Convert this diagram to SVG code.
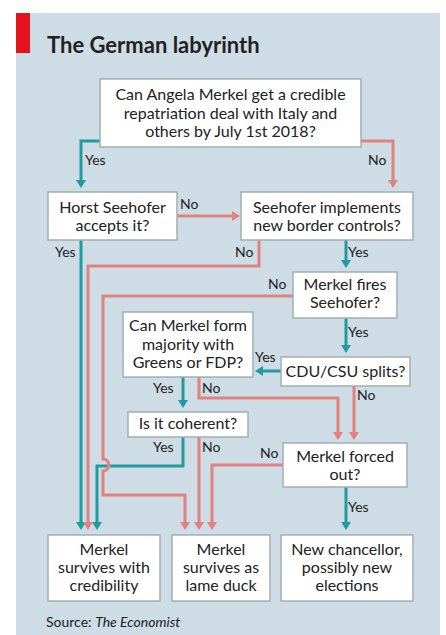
<svg xmlns="http://www.w3.org/2000/svg" width="446" height="635" viewBox="0 0 446 635">
<style>
text{font-family:Lato,"Open Sans","Liberation Sans",sans-serif;fill:#222}
.n{font-size:16px;text-anchor:middle}
.l{font-size:14px}
.box{fill:#fff;stroke:#a3aeb4;stroke-width:1.5}
.t{fill:none;stroke:#1e9ca0;stroke-width:3}
.r{fill:none;stroke:#e3817f;stroke-width:3}
.ta{marker-end:url(#at)}
.ra{marker-end:url(#ar)}
</style>
<defs>
<marker id="at" viewBox="0 0 8 10" markerWidth="8" markerHeight="10" refX="3" refY="5" orient="auto" markerUnits="userSpaceOnUse"><path d="M0,0L8,5L0,10z" fill="#1e9ca0"/></marker>
<marker id="ar" viewBox="0 0 8 10" markerWidth="8" markerHeight="10" refX="3" refY="5" orient="auto" markerUnits="userSpaceOnUse"><path d="M0,0L8,5L0,10z" fill="#e3817f"/></marker>
</defs>
<rect x="16" y="13" width="424" height="622" fill="#cddce5"/>
<rect x="16" y="13" width="14" height="40" fill="#e3131e"/>
<text x="47" y="53" font-size="22" font-weight="bold" fill="#1a1a1a">The German labyrinth</text>

<g id="connectors">
<path class="t ta" d="M100,141H81V183"/>
<path class="t ta" d="M81,240V525"/>
<path class="t ta" d="M346,240V263"/>
<path class="t ta" d="M346,318V348"/>
<path class="t ta" d="M281,371H260"/>
<path class="t ta" d="M183,377V403"/>
<path class="t ta" d="M183,437V466H97V525"/>
<path class="t ta" d="M346,487V525"/>
<path class="r ra" d="M361,141H393V183"/>
<path class="r ra" d="M177,216H235"/>
<path class="r ra" d="M259,240V266H88V525"/>
<path class="r ra" d="M293,296H103V459A6,6 0 0 1 103,471V495H185V525"/>
<path class="r ra" d="M199,377V398H338V435"/>
<path class="r ra" d="M354,386V435"/>
<path class="r ra" d="M199,437V525"/>
<path class="r ra" d="M283,465H212V525"/>
<g class="l">
<text x="85" y="165">Yes</text>
<text x="55" y="257">Yes</text>
<text x="348" y="257">Yes</text>
<text x="348" y="337">Yes</text>
<text x="255" y="362">Yes</text>
<text x="153" y="393">Yes</text>
<text x="153" y="452">Yes</text>
<text x="348" y="512">Yes</text>
<text x="368" y="165">No</text>
<text x="180" y="209">No</text>
<text x="235" y="257">No</text>
<text x="268" y="289">No</text>
<text x="202" y="393">No</text>
<text x="357" y="400">No</text>
<text x="202" y="452">No</text>
<text x="260" y="458">No</text>
</g>
</g>

<g id="q1"><rect class="box" x="100" y="79" width="261" height="68"/>
<text class="n" x="230.5" y="100">Can Angela Merkel get a credible</text>
<text class="n" x="230.5" y="119">repatriation deal with Italy and</text>
<text class="n" x="230.5" y="137">others by July 1st 2018?</text></g>
<g id="q2"><rect class="box" x="48" y="192" width="129" height="48"/>
<text class="n" x="112.5" y="213">Horst Seehofer</text>
<text class="n" x="112.5" y="231">accepts it?</text></g>
<g id="q3"><rect class="box" x="241" y="192" width="172" height="48"/>
<text class="n" x="327" y="213">Seehofer implements</text>
<text class="n" x="327" y="231">new border controls?</text></g>
<g id="q4"><rect class="box" x="293" y="272" width="104" height="46"/>
<text class="n" x="345" y="290">Merkel fires</text>
<text class="n" x="345" y="308">Seehofer?</text></g>
<g id="q5"><rect class="box" x="123" y="312" width="130" height="65"/>
<text class="n" x="188" y="331">Can Merkel form</text>
<text class="n" x="188" y="350">majority with</text>
<text class="n" x="188" y="368">Greens or FDP?</text></g>
<g id="q6"><rect class="box" x="281" y="357" width="129" height="29"/>
<text class="n" x="345.5" y="377">CDU/CSU splits?</text></g>
<g id="q7"><rect class="box" x="128" y="412" width="120" height="25"/>
<text class="n" x="188" y="429">Is it coherent?</text></g>
<g id="q8"><rect class="box" x="283" y="443" width="124" height="44"/>
<text class="n" x="345" y="462">Merkel forced</text>
<text class="n" x="345" y="480">out?</text></g>
<g id="r1"><rect class="box" x="48" y="535" width="112" height="66"/>
<text class="n" x="104" y="555">Merkel</text>
<text class="n" x="104" y="573">survives with</text>
<text class="n" x="104" y="591">credibility</text></g>
<g id="r2"><rect class="box" x="172" y="535" width="98" height="66"/>
<text class="n" x="221" y="555">Merkel</text>
<text class="n" x="221" y="573">survives as</text>
<text class="n" x="221" y="591">lame duck</text></g>
<g id="r3"><rect class="box" x="281" y="535" width="132" height="66"/>
<text class="n" x="347" y="555">New chancellor,</text>
<text class="n" x="347" y="573">possibly new</text>
<text class="n" x="347" y="591">elections</text></g>
<text x="46" y="627" font-size="14">Source: <tspan font-style="italic">The Economist</tspan></text>
</svg>
